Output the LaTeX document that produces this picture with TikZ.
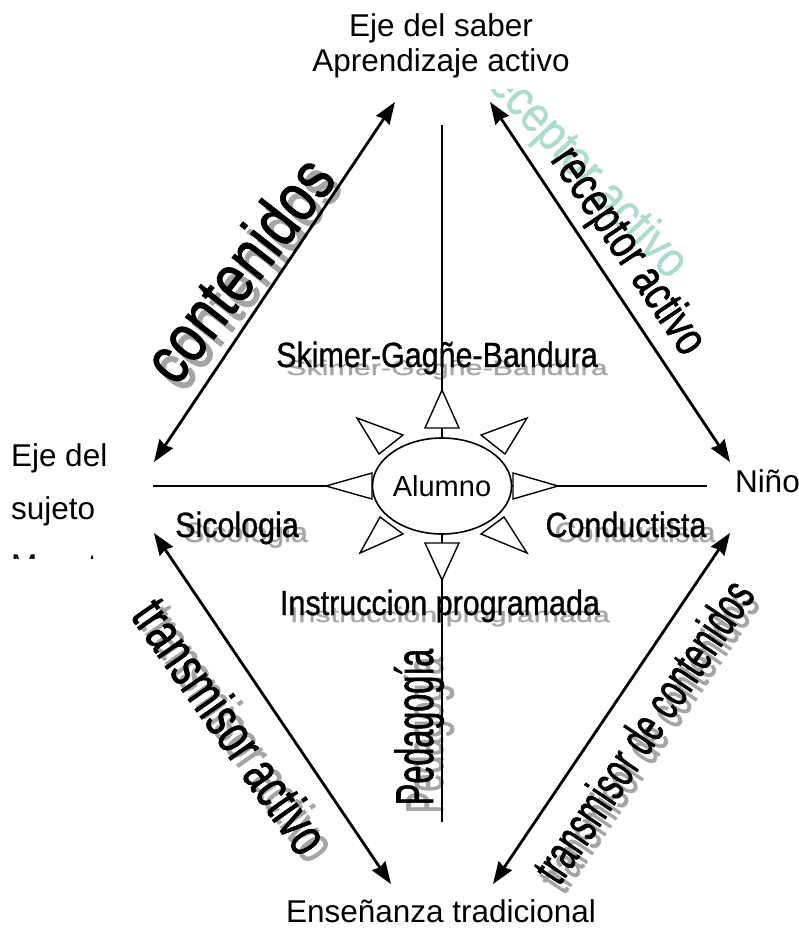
\documentclass[tikz,border=0pt]{standalone}
\usepackage{fontspec}
\usepackage{graphicx}
\setmainfont{Liberation Sans}
\newfontfamily\heavyfam[FakeBold=1.6]{Liberation Sans}
\newfontfamily\midfam[FakeBold=0.9]{Liberation Sans}
\usetikzlibrary{arrows.meta,shapes.geometric,calc}
\definecolor{shgray}{RGB}{165,165,165}
\definecolor{mint}{RGB}{172,220,203}
\begin{document}
\begin{tikzpicture}[x=1pt,y=-1pt,
  lbl/.style={font=\fontsize{31.5}{36}\selectfont, inner sep=0pt, outer sep=0pt},
  nar/.style={font=\midfam\fontsize{35}{40}\selectfont, inner sep=0pt, outer sep=0pt, anchor=base},
  nsh/.style={nar, text=shgray},
  big/.style={inner sep=0pt, outer sep=0pt},
  axis/.style={line width=1.6pt},
  dbl/.style={line width=2.8pt, {Stealth[length=22pt,width=16pt,inset=2pt]}-{Stealth[length=22pt,width=16pt,inset=2pt]}},
  tri/.style={line width=1.4pt, line join=miter},
  stub/.style={line width=1.4pt},
]
\useasboundingbox (0,0) rectangle (798,928);

% ---------- corner labels ----------
\node[lbl,anchor=base] (t1) at (441,37) {Eje del saber};
\node[lbl,anchor=base] (t2) at (441,72) {Aprendizaje activo};
\node[lbl,anchor=base west] (l1) at (11,466) {Eje del};
\node[lbl,anchor=base west] (l2) at (11,519) {sujeto};
\begin{scope}
  \clip (0,552) rectangle (140,558);
  \node[lbl,anchor=base west] (l3) at (11,576) {Maestro};
\end{scope}
\node[lbl,anchor=base west] (r1) at (735,492) {Niño};
\node[lbl,anchor=base] (b1) at (441,922) {Enseñanza tradicional};

% ---------- shadows of the rotated labels ----------
\node[big, rotate=52, text=shgray, font=\heavyfam\fontsize{68}{76}\selectfont] at (245,276) {\scalebox{0.8}[1]{contenidos}};
\node[big, rotate=-55, text=shgray, font=\heavyfam\fontsize{56}{62}\selectfont] at (239,733) {\scalebox{0.7}[1]{transmisor activo}};
\node[big, rotate=56, text=shgray, font=\heavyfam\fontsize{50}{58}\selectfont] at (648,740) {\scalebox{0.63}[1]{transmisor de contenidos}};
\node[big, rotate=90, anchor=base, text=shgray, font=\heavyfam\fontsize{53}{60}\selectfont] at (443,735) {\scalebox{0.61}[1]{Pedagogía}};
\begin{scope}
  \clip (440,90) rectangle (798,420);
  \node[big, rotate=-47, text=mint, font=\midfam\fontsize{50}{56}\selectfont] at (582,169) {\scalebox{0.86}[1]{receptor activo}};
\end{scope}

% ---------- shadows of the horizontal labels ----------
\node[nsh] at (447,375) {\scalebox{0.87}[0.6]{Skimer-Gagñe-Bandura}};
\node[nsh] at (450,622) {\scalebox{0.87}[0.6]{Instruccion programada}};
\node[nsh] at (246,542) {\scalebox{0.87}[0.8]{Sicologia}};
\node[nsh] at (635,542) {\scalebox{0.87}[0.8]{Conductista}};

% ---------- rotated labels ----------
\node[big, rotate=52, font=\heavyfam\fontsize{68}{76}\selectfont] (con) at (238,269) {\scalebox{0.8}[1]{contenidos}};
\node[big, rotate=-56, font=\heavyfam\fontsize{48}{54}\selectfont] (rec) at (627,252) {\scalebox{0.76}[1]{receptor activo}};
\node[big, rotate=-55, font=\heavyfam\fontsize{56}{62}\selectfont] (tra) at (231,726) {\scalebox{0.7}[1]{transmisor activo}};
\node[big, rotate=56, font=\heavyfam\fontsize{50}{58}\selectfont] (trc) at (643,731) {\scalebox{0.63}[1]{transmisor de contenidos}};
\node[big, rotate=90, anchor=base, font=\heavyfam\fontsize{53}{60}\selectfont] (ped) at (433,727) {\scalebox{0.61}[1]{Pedagogía}};

% ---------- horizontal labels ----------
\node[nar] (skm) at (437,367) {\scalebox{0.87}[1]{Skimer-Gagñe-Bandura}};
\node[nar] (ins) at (440,615) {\scalebox{0.87}[1]{Instruccion programada}};
\node[nar] (sic) at (237,537) {\scalebox{0.87}[1]{Sicologia}};
\node[nar] (cnd) at (626,537) {\scalebox{0.87}[1]{Conductista}};

% ---------- big double arrows ----------
\coordinate (ulA) at (154,462); \coordinate (ulB) at (395,102);
\coordinate (urA) at (490,102); \coordinate (urB) at (730,462);
\coordinate (llA) at (154,533); \coordinate (llB) at (391,884);
\coordinate (lrA) at (730,533); \coordinate (lrB) at (493,884);
\draw[dbl] (ulA) -- (ulB);
\draw[dbl] (urA) -- (urB);
\draw[dbl] (llA) -- (llB);
\draw[dbl] (lrA) -- (lrB);

% ---------- centre ----------
\node[draw, ellipse, line width=1.6pt, minimum width=121pt, minimum height=96pt, inner sep=0pt,
      font=\fontsize{29}{32}\selectfont] (al) at (442,486) {Alumno};

% axis lines
\coordinate (axT) at (442,125);
\coordinate (axB) at (442,822);
\coordinate (axL) at (153,486);
\coordinate (axR) at (707,486);
\coordinate (tipT) at (442,390);
\coordinate (tipB) at (442,580);
\coordinate (tipL) at (326,486);
\coordinate (tipR) at (558,486);
\draw[axis] (axT) -- (tipT);
\draw[axis] (tipB) -- (axB);
\draw[axis] (axL) -- (tipL);
\draw[axis] (tipR) -- (axR);

% attached arrow triangles
\draw[stub] (al.north) -- (442,428);
\draw[tri] (425,428) -- (tipT) -- (459,428) -- cycle;
\draw[stub] (al.south) -- (442,543);
\draw[tri] (425,543) -- (tipB) -- (459,543) -- cycle;
\draw[stub] (al.west) -- (372,486);
\draw[tri] (372,473) -- (tipL) -- (372,499) -- cycle;
\draw[stub] (al.east) -- (513,486);
\draw[tri] (513,473) -- (tipR) -- (513,499) -- cycle;

% free diagonal triangles
\draw[tri] (357,418) -- (403,435) -- (379,454) -- cycle;
\draw[tri] (527,418) -- (481,435) -- (505,454) -- cycle;
\draw[tri] (360,553) -- (403,534) -- (380,517) -- cycle;
\draw[tri] (527,553) -- (481,534) -- (504,517) -- cycle;
\end{tikzpicture}
\end{document}
